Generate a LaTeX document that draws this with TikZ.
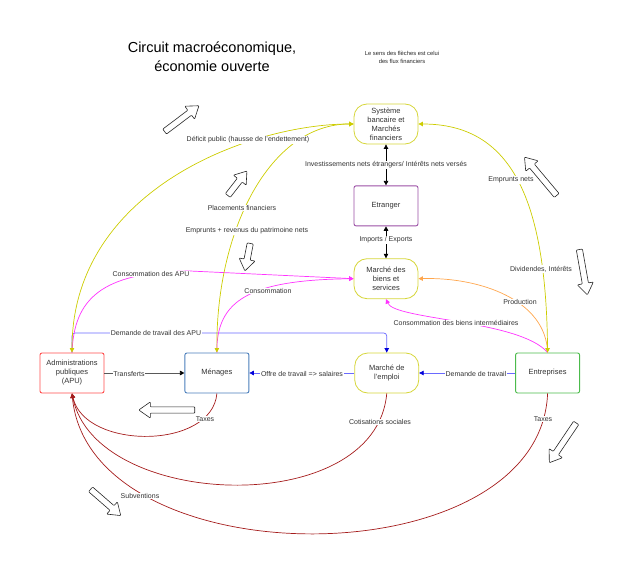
\documentclass[tikz,border=0pt]{standalone}
\usepackage{fontspec}
\setmainfont{Liberation Sans}
\usepackage{xcolor}
\usetikzlibrary{arrows.meta, positioning, shapes.arrows}
\definecolor{finyellow}{HTML}{CCCC00}
\definecolor{boxyellow}{HTML}{D6D63A}
\definecolor{etrpurple}{HTML}{9B4FA5}
\definecolor{apured}{HTML}{FF4D4D}
\definecolor{menblue}{HTML}{4A7EBB}
\definecolor{entgreen}{HTML}{4CBB4C}
\definecolor{consmag}{HTML}{FF33FF}
\definecolor{prodorange}{HTML}{FFA64D}
\definecolor{travblue}{HTML}{6A6AFF}
\definecolor{taxred}{HTML}{A51C1C}

\begin{document}
\begin{tikzpicture}[x=1pt, y=-1pt,
      >={Triangle[length=4.5pt, width=4.5pt]},
      box/.style={rectangle, rounded corners=2pt, draw, line width=0.9pt, fill=white,
                  minimum width=64pt, minimum height=40pt, inner sep=1pt,
                  font=\fontsize{7.5}{9}\selectfont, align=center, text=black!80},
      market/.style={box, rounded corners=13pt, draw=boxyellow, line width=0.8pt},
      lbl/.style={fill=white, inner sep=0.6pt, font=\fontsize{7}{8}\selectfont, text=black!80},
      flux/.style={->, line width=0.7pt},
      bluetip/.style={-{Triangle[length=4.5pt, width=4.5pt, color=blue!85!black]}},
      bigarrow/.style={single arrow, draw=black!85, line width=0.6pt, fill=white,
                  inner sep=2.8pt, minimum width=16pt, single arrow head extend=5pt,
                  single arrow tip angle=70, rounded corners=0.8pt}
    ]
      \useasboundingbox (0,0) rectangle (640,583);
      % titre
      \node[align=center, font=\fontsize{14.5}{19}\selectfont] (title) at (212,57)
        {Circuit macroéconomique,\\économie ouverte};
      \node[align=center, font=\fontsize{5.8}{8}\selectfont, text=black!85] (note) at (402,57)
        {Le sens des flèches est celui\\des flux financiers};

      % agents et marchés
      \node[market] (sys) at (386,124) {Système\\bancaire et\\Marchés\\financiers};
      \node[box, draw=etrpurple, below=41pt of sys] (etr) {Etranger};
      \node[market, below=32pt of etr] (mbs) {Marché des\\biens et\\services};
      \node[box, draw=apured] (apu) at (72,373) {Administrations\\publiques\\(APU)};
      \node[box, draw=menblue, right=80pt of apu] (men) {Ménages};
      \node[market, right=105pt of men] (mem) {Marché de\\l'emploi};
      \node[box, draw=entgreen, right=96pt of mem] (ent) {Entreprises};
      \coordinate (apujct) at (72,333);

      % travail
      \draw[flux, travblue, bluetip, rounded corners=3pt]
        (apu.north) -- (apujct) -- (apujct -| mem.north) -- (mem.north);
      \draw[flux, travblue, bluetip] (mem.west) -- (men.east);
      \draw[flux, travblue, bluetip] (ent.west) -- (mem.east);
      \draw[flux, black!65, -{Triangle[length=4.5pt, width=4.5pt, color=black]}] (apu.east) -- (men.west);

      % flux avec l'étranger
      \draw[flux, <->, black] (sys) -- (etr);
      \draw[flux, <->, black] (etr) -- (mbs);

      % consommation et production
      \draw[flux, consmag] (apu.north) .. controls (74,300) and (100,272) .. (190,271) -- (mbs.west);
      \draw[flux, consmag] (men.north) .. controls (216,300) and (250,280) .. (mbs.west);
      \draw[flux, consmag] (ent.north) .. controls (520,320) and (395,320) .. (mbs.south);
      \draw[flux, prodorange] (ent.north) .. controls (546,300) and (480,277) .. (mbs.east);

      % flux financiers
      \draw[flux, <->, finyellow] (apu.north) .. controls (72,190) and (250,124) .. (sys.west);
      \draw[flux, <->, finyellow] (men.north) .. controls (216,230) and (270,124) .. (sys.west);
      \draw[flux, <->, finyellow] (ent.north) .. controls (546,200) and (512,124) .. (sys.east);

      % prélèvements
      \draw[flux, taxred] (men.south) .. controls (212,450) and (85,450) .. (apu.south);
      \draw[flux, taxred] (mem.south) .. controls (376,520) and (95,510) .. (apu.south);
      \draw[flux, taxred] (ent.south) .. controls (540,580) and (90,580) .. (apu.south);

      % étiquettes
      \node[lbl] (linv) at (386,165) {Investissements nets étrangers/ Intérêts nets versés};
      \node[lbl] (limp) at (386,240) {Imports / Exports};
      \node[lbl] (ldef) at (248,140) {Déficit public (hausse de l'endettement)};
      \node[lbl] (lplac) at (242,208) {Placements financiers};
      \node[lbl] (lemp) at (247,231) {Emprunts + revenus du patrimoine nets};
      \node[lbl] (lempn) at (511,180) {Emprunts nets};
      \node[lbl] (ldiv) at (541,269) {Dividendes, Intérêts};
      \node[lbl] (lcapu) at (151,274) {Consommation des APU};
      \node[lbl] (lcons) at (268,291) {Consommation};
      \node[lbl] (lprod) at (520,302) {Production};
      \node[lbl] (lcbi) at (456,323) {Consommation des biens intermédiaires};
      \node[lbl] (ldapu) at (156,333) {Demande de travail des APU};
      \node[lbl] (ltrans) at (129,374) {Transferts};
      \node[lbl] (loffre) at (302,374) {Offre de travail => salaires};
      \node[lbl] (ldem) at (476,374) {Demande de travail};
      \node[lbl] (ltaxm) at (205,419) {Taxes};
      \node[lbl] (lcot) at (380,422) {Cotisations sociales};
      \node[lbl] (ltaxe) at (543,419) {Taxes};
      \node[lbl] (lsub) at (140,496) {Subventions};

      % grosses flèches
      \node[bigarrow, minimum height=43pt, rotate=37] (ga1) at (180,120) {};
      \node[bigarrow, minimum height=31pt, rotate=52] (ga2) at (236,185) {};
      \node[bigarrow, minimum height=28pt, rotate=259] (ga3) at (248,255) {};
      \node[bigarrow, minimum height=50pt, rotate=130] (ga4) at (542,178) {};
      \node[bigarrow, minimum height=46pt, rotate=-80] (ga5) at (583,270) {};
      \node[bigarrow, minimum height=56pt, rotate=180] (ga6) at (169,410) {};
      \node[bigarrow, minimum height=48pt, rotate=236] (ga7) at (564,441) {};
      \node[bigarrow, minimum height=40pt, rotate=-41] (ga8) at (104,501) {};
\end{tikzpicture}
\end{document}
